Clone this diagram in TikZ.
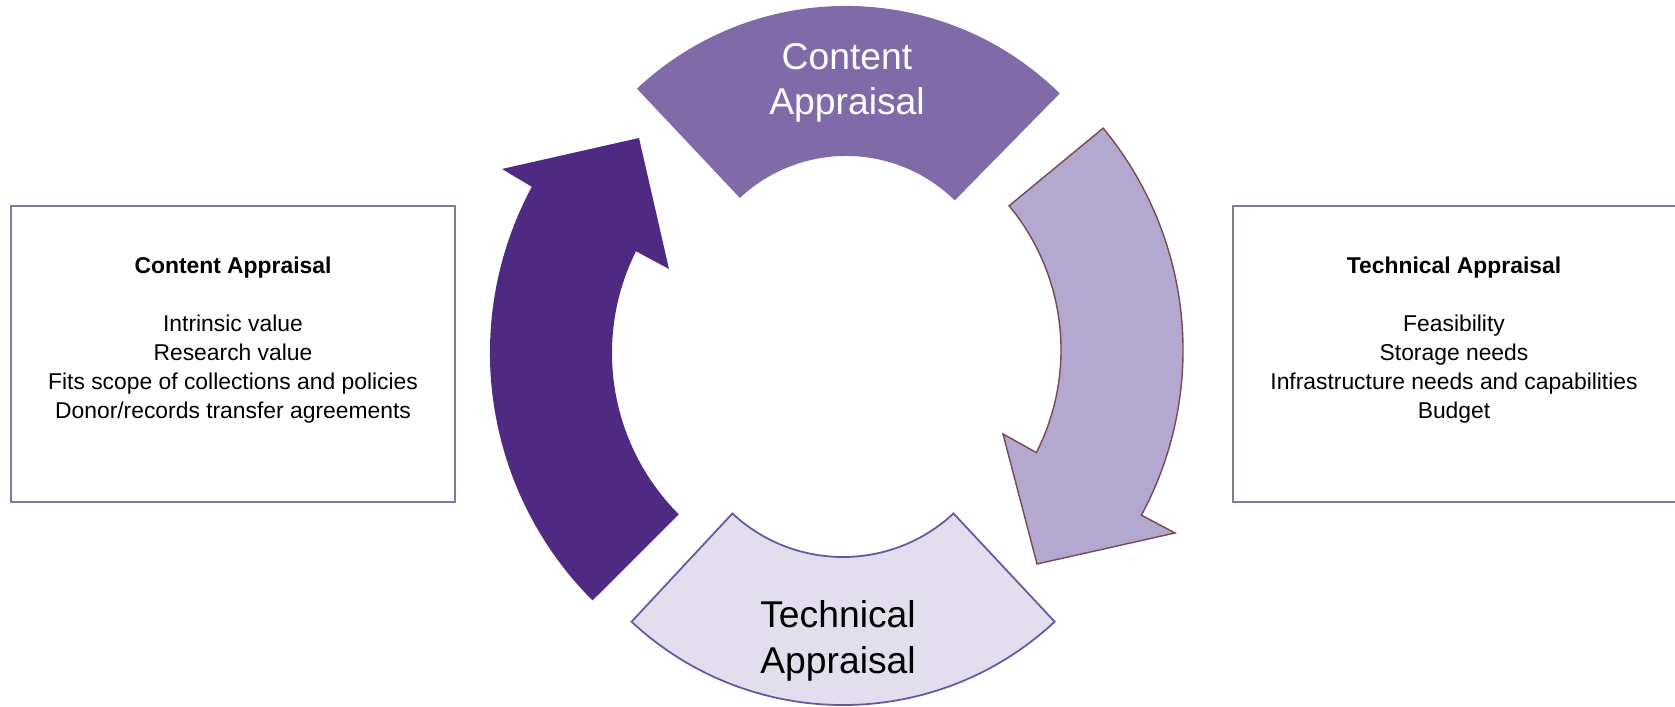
\documentclass[tikz,border=0pt]{standalone}
\usepackage{fontspec}
\setmainfont{Liberation Sans}
\usetikzlibrary{calc}
\definecolor{topc}{RGB}{128,106,168}
\definecolor{darkc}{RGB}{78,42,130}
\definecolor{rightc}{RGB}{179,169,208}
\definecolor{rightline}{RGB}{120,72,84}
\definecolor{botc}{RGB}{226,222,238}
\definecolor{botline}{RGB}{104,86,160}
\definecolor{boxline}{RGB}{128,122,158}
\tikzset{
  seclabel/.style={align=center, inner sep=0pt, font={\fontsize{10.6pt}{12.9pt}\selectfont}},
  infobox/.style={draw=boxline, line width=0.6pt, fill=white, minimum height=2.96cm, inner sep=0pt},
  boxtext/.style={align=center, inner sep=0pt, font={\fontsize{6.5pt}{8.25pt}\selectfont}}
}
\begin{document}
\begin{tikzpicture}[x=0.01cm,y=0.01cm]
\useasboundingbox (0,0) rectangle (1675,707);
\coordinate (C1) at (840,354);
\coordinate (C2) at (835,357);
\coordinate (C3) at (846,396);
\coordinate (C4) at (843,312);
% top sector
\fill[topc] ($(C3)+(45.5:305)$) arc[start angle=45.5, end angle=133.2, radius=3.05cm]
  -- ($(C3)+(133.2:155)$) arc[start angle=133.2, end angle=45.5, radius=1.55cm] -- cycle;
% bottom sector
\filldraw[fill=botc, draw=botline, line width=0.5pt] ($(C4)+(227:310)$) arc[start angle=227, end angle=313, radius=3.1cm]
  -- ($(C4)+(313:162)$) arc[start angle=313, end angle=227, radius=1.62cm] -- cycle;
% left arrow
\fill[darkc] ($(C1)+(225:350)$) arc[start angle=225, end angle=151.7, radius=3.5cm]
  -- (502,538) -- (639,569) -- (669,438)
  -- ($(C1)+(153.5:228)$) arc[start angle=153.5, end angle=225, radius=2.28cm] -- cycle;
% right arrow
\filldraw[fill=rightc, draw=rightline, line width=0.4pt] ($(C2)+(39.6:348)$) arc[start angle=39.6, end angle=-28.3, radius=3.48cm]
  -- (1175,174) -- (1037,143) -- (1003,273)
  -- ($(C2)+(-27:226)$) arc[start angle=-27, end angle=39.6, radius=2.26cm] -- cycle;
% sector labels
\node[seclabel, text=white] (ctop) at (847,624) {Content\\Appraisal};
\node[seclabel] (tbot) at (838,66) {Technical\\Appraisal};
% side boxes
\node[infobox, minimum width=4.44cm] (lbox) at (233,353) {};
\node[infobox, minimum width=4.52cm] (rbox) at (1459,353) {};
\node[boxtext] (ltext) at (233,367) {\textbf{Content Appraisal}\\[8.25pt]Intrinsic value\\Research value\\Fits scope of collections and policies\\Donor/records transfer agreements};
\node[boxtext] (rtext) at (1454,367) {\textbf{Technical Appraisal}\\[8.25pt]Feasibility\\Storage needs\\Infrastructure needs and capabilities\\Budget};
\end{tikzpicture}
\end{document}
